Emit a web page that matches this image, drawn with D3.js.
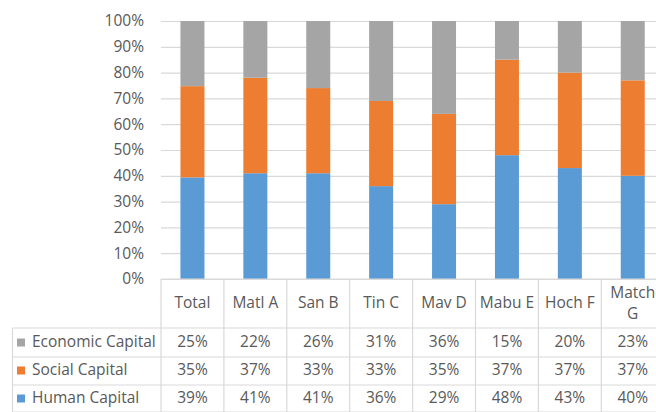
<!DOCTYPE html>
<html>
<head>
<meta charset="utf-8">
<script src="https://cdn.jsdelivr.net/npm/d3@7"></script>
<style>
  html, body { margin: 0; padding: 0; background: #fff; }
  svg { display: block; font-family: "Open Sans", Lato, sans-serif; }
</style>
</head>
<body>
<svg id="chart" width="656" height="412"></svg>
<script>
const categories = ["Total", "Matl A", "San B", "Tin C", "Mav D", "Mabu E", "Hoch F", "Match G"];
const seriesNames = ["Human Capital", "Social Capital", "Economic Capital"];
const humanCapital = [39, 41, 41, 36, 29, 48, 43, 40];
const socialCapital = [35, 37, 33, 33, 35, 37, 37, 37];
const economicCapital = [25, 22, 26, 31, 36, 15, 20, 23];
const colors = ["#5b9bd5", "#ed7d31", "#a5a5a5"];
const yTicks = [0, 0.1, 0.2, 0.3, 0.4, 0.5, 0.6, 0.7, 0.8, 0.9, 1];

const seriesValues = [humanCapital, socialCapital, economicCapital];
const rows = categories.map((c, i) => {
  const r = { cat: c };
  seriesNames.forEach((s, j) => r[s] = seriesValues[j][i]);
  return r;
});

const svg = d3.select("#chart");
const textColor = "#595959";
const lineColor = "#d9d9d9";
const fontSize = 15.5;
const fontFamily = "'Open Sans', Lato, sans-serif";

const colLeft = 161, colW = 62.9;
const x = d3.scaleBand().domain(categories).range([colLeft, colLeft + colW * categories.length]).padding(0);
const y = d3.scaleLinear().domain([0, 1]).range([279, 21]);

// gridlines
svg.append("g")
  .attr("transform", `translate(${colLeft},0)`)
  .call(d3.axisLeft(y).tickValues(yTicks).tickSize(-(656 - colLeft + 20)).tickFormat(""))
  .call(g => g.select(".domain").remove())
  .call(g => g.selectAll("line").attr("stroke", lineColor).attr("stroke-width", 1.2));

// y axis labels
svg.append("g")
  .attr("transform", `translate(144,0)`)
  .call(d3.axisLeft(y).tickValues(yTicks).tickSize(0).tickPadding(0).tickFormat(d3.format(".0%")))
  .call(g => g.select(".domain").remove())
  .call(g => g.selectAll("text").attr("fill", textColor).attr("font-size", fontSize).attr("font-family", fontFamily));

// stacked bars
const stack = d3.stack().keys(seriesNames).offset(d3.stackOffsetExpand);
const stacked = stack(rows);
const barW = 24;
svg.append("g").selectAll("g")
  .data(stacked)
  .join("g")
  .attr("fill", (d, i) => colors[i])
  .selectAll("rect")
  .data(d => d)
  .join("rect")
  .attr("x", d => x(d.data.cat) + x.bandwidth() / 2 - barW / 2)
  .attr("width", barW)
  .attr("y", d => y(d[1]))
  .attr("height", d => y(d[0]) - y(d[1]));

// data table
const tableTop = 279, headerBottom = 328;
const rowLines = [328, 357, 385, 412];
const legendLeft = 12.5;
const tableRight = colLeft + colW * categories.length;
const grid = svg.append("g").attr("stroke", lineColor).attr("stroke-width", 1.2);

grid.append("line").attr("x1", colLeft).attr("x2", tableRight).attr("y1", tableTop).attr("y2", tableTop);
rowLines.forEach(yy => grid.append("line").attr("x1", legendLeft).attr("x2", tableRight).attr("y1", yy).attr("y2", yy));
const vx = categories.map(c => x(c)).concat([tableRight]);
vx.forEach(xx => grid.append("line").attr("x1", xx).attr("x2", xx).attr("y1", tableTop).attr("y2", 412));
grid.append("line").attr("x1", legendLeft).attr("x2", legendLeft).attr("y1", headerBottom).attr("y2", 412);

// header labels with wrapping
const headerG = svg.append("g").attr("fill", textColor).attr("font-size", fontSize).attr("text-anchor", "middle");
categories.forEach(c => {
  const cx = x(c) + x.bandwidth() / 2;
  const t = headerG.append("text").attr("x", cx).attr("y", 303).attr("dy", "0.35em").text(c);
  const w = t.node().getComputedTextLength();
  if (w > x.bandwidth() - 5) {
    const words = c.split(" ");
    t.text(null).attr("y", 292.5).attr("dy", null);
    words.forEach((wd, k) => {
      t.append("tspan").attr("x", cx).attr("y", 292.5 + k * 21).attr("dy", "0.35em").text(wd);
    });
  }
});

// table rows: economic, social, human
const tableRows = [
  { name: "Economic Capital", values: economicCapital, color: colors[2], cy: 342 },
  { name: "Social Capital", values: socialCapital, color: colors[1], cy: 370 },
  { name: "Human Capital", values: humanCapital, color: colors[0], cy: 398 }
];
const rowG = svg.append("g").attr("font-size", fontSize).attr("fill", textColor);
tableRows.forEach(r => {
  rowG.append("rect").attr("x", 17).attr("y", r.cy - 3.5).attr("width", 8).attr("height", 8).attr("fill", r.color);
  rowG.append("text").attr("x", 32).attr("y", r.cy).attr("dy", "0.35em").text(r.name);
  r.values.forEach((v, i) => {
    rowG.append("text").attr("x", x(categories[i]) + x.bandwidth() / 2).attr("y", r.cy).attr("dy", "0.35em")
      .attr("text-anchor", "middle").text(v + "%");
  });
});
</script>
</body>
</html>
